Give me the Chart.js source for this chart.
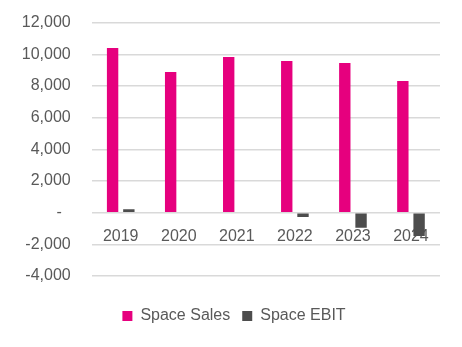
<!DOCTYPE html>
<html>
<head>
<meta charset="utf-8">
<script src="https://cdn.jsdelivr.net/npm/chart.js@4/dist/chart.umd.min.js"></script>
<style>
  html, body { margin: 0; padding: 0; background: #ffffff; }
  #wrap { width: 462px; height: 347px; position: relative; }
</style>
</head>
<body>
<div id="wrap"><canvas id="c" width="462" height="347"></canvas></div>
<script>
const categories = ["2019", "2020", "2021", "2022", "2023", "2024"];
const spaceSales = [10400, 8880, 9830, 9580, 9450, 8320];
const spaceEbit = [210, 0, 0, -270, -950, -1470];
const yMin = -4000;
const yMax = 12000;
const yStep = 2000;

const textColor = "#595959";
const fontFamily = "'Liberation Sans', Arial, sans-serif";

const chart = new Chart(document.getElementById("c"), {
  type: "bar",
  data: {
    labels: categories,
    datasets: [
      { label: "Space Sales", data: spaceSales, backgroundColor: "#E6007E", borderWidth: 0,
        xAxisID: "x", yAxisID: "y", categoryPercentage: 0.56, barPercentage: 0.7 },
      { label: "Space EBIT", data: spaceEbit, backgroundColor: "#4D4D4D", borderWidth: 0,
        xAxisID: "x", yAxisID: "y", categoryPercentage: 0.56, barPercentage: 0.7 }
    ]
  },
  options: {
    responsive: false,
    animation: false,
    devicePixelRatio: 1,
    layout: { padding: { left: 17, right: 11, top: 22.7, bottom: 13 } },
    plugins: {
      tooltip: { enabled: false },
      legend: {
        position: "bottom",
        labels: {
          boxWidth: 10, boxHeight: 10, padding: 12,
          color: textColor,
          font: { family: fontFamily, size: 16 }
        }
      }
    },
    scales: {
      x: {
        position: { y: 0 },
        grid: { display: false, drawTicks: false },
        border: { display: false },
        ticks: { color: textColor, padding: 14, font: { family: fontFamily, size: 16 } }
      },
      y: {
        min: yMin, max: yMax,
        grid: { color: "#D9D9D9", lineWidth: 1.5, drawTicks: false },
        border: { display: false },
        afterFit: (s) => { s.width = 74.7; s.paddingTop = 0; s.paddingBottom = 0; },
        ticks: {
          stepSize: yStep,
          padding: 21,
          color: textColor,
          font: { family: fontFamily, size: 16 },
          callback: (v) => v === 0 ? "-  " : v.toLocaleString("en-US")
        }
      },
      xSpacer: {
        type: "category",
        position: "bottom",
        grid: { display: false, drawTicks: false },
        border: { display: false },
        ticks: { display: false },
        afterFit: (s) => { s.height = 20; }
      },
      ySpacer: {
        type: "linear",
        position: "right",
        grid: { display: false, drawTicks: false },
        border: { display: false },
        ticks: { display: false },
        afterFit: (s) => { s.width = 11; s.paddingTop = 0; s.paddingBottom = 0; }
      }
    }
  }
});
</script>
</body>
</html>
